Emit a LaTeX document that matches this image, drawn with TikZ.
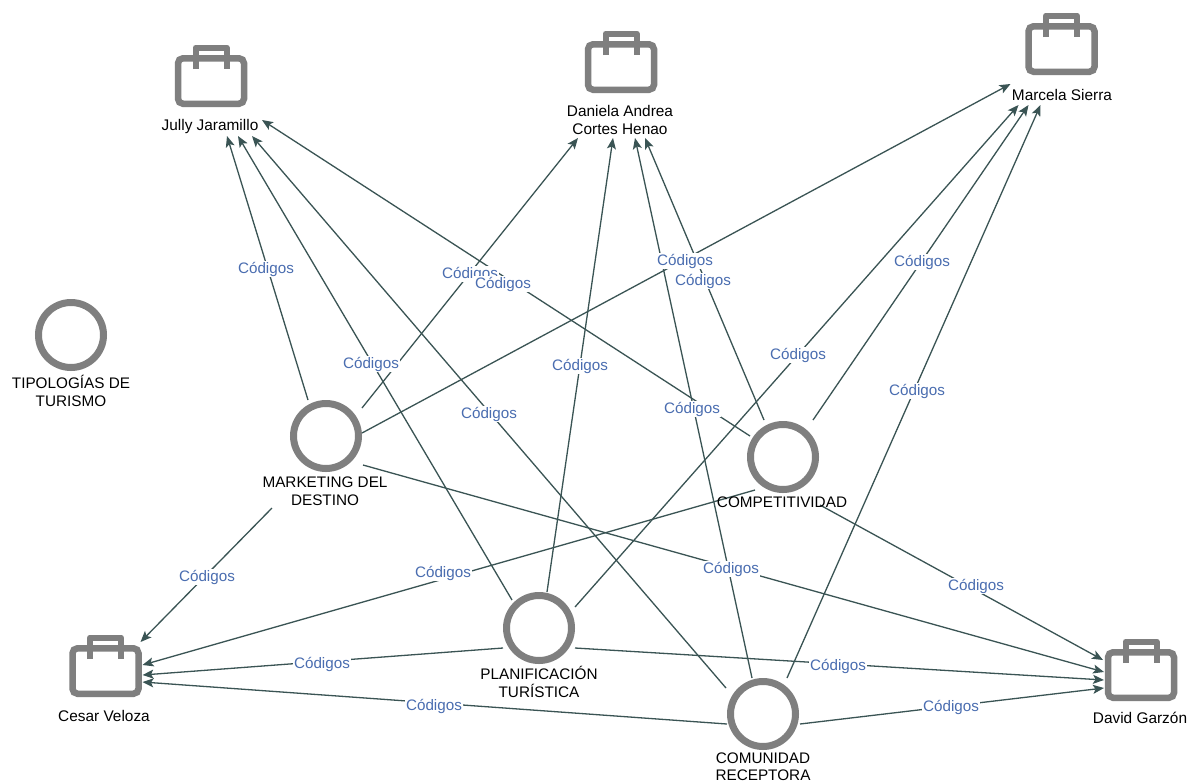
\documentclass[tikz,border=0pt]{standalone}
\usepackage{fontspec}
\setmainfont{Liberation Sans}
\usetikzlibrary{arrows.meta}
\pgfdeclarelayer{paper}
\pgfdeclarelayer{edges}
\pgfsetlayers{paper,edges,main}
\definecolor{icongray}{HTML}{7F7F7F}
\definecolor{edgecol}{HTML}{3A5454}
\definecolor{labcol}{HTML}{4A6DB0}
\tikzset{
  x=1pt,y=-1pt,
  circ/.style={circle,draw=icongray,line width=7pt,fill=white,minimum size=65pt,inner sep=0pt},
  case/.style={rectangle,draw=icongray,line width=6.5pt,rounded corners=5pt,fill=white,minimum width=66pt,minimum height=45.5pt,inner sep=0pt},
  handle/.style={draw=icongray,line width=6pt,line join=round},
  conn/.style={draw=edgecol,line width=1.3pt,-{Stealth[length=11pt,width=9pt,inset=2.5pt]}},
  lab/.style={fill=white,text=labcol,font=\fontsize{15.2}{17}\selectfont,inner sep=1pt},
  cap1/.style={text=black,font=\fontsize{15.3}{18}\selectfont,align=center,inner sep=0pt},
  cap2/.style={text=black,font=\fontsize{15.4}{18}\selectfont,align=center,inner sep=0pt}
}
\newcommand{\brief}[3]{%
  \node[case] (#1) at (#2,#3) {};
  \draw[handle] ([shift={(-15.5,-12)}]#1.center) -- ++(0,-21.5) -- ++(31,0) -- ++(0,21.5);
}
\newcommand{\conn}[8]{%
  \begin{pgfonlayer}{edges}
    \draw[conn] ([shift={(#2)}]#1.center) -- ([shift={(#4)}]#3.center);
  \end{pgfonlayer}
  \node[lab] (#5) at (#6,#7) {#8};
}
\begin{document}
\begin{tikzpicture}
\begin{pgfonlayer}{paper}
\fill[white] (0,0) rectangle (1188,782);
\end{pgfonlayer}
\useasboundingbox (0,0) rectangle (1188,782);

\node[circ] (t) at (71,335) {};
\node[circ] (m) at (326,436) {};
\node[circ] (c) at (783,457) {};
\node[circ] (p) at (539,628) {};
\node[circ] (k) at (763,714) {};
\brief{j}{211}{81}
\brief{d}{621}{67}
\brief{r}{1061.5}{49}
\brief{v}{105.5}{671}
\brief{g}{1141}{675}

\node[cap1] (tl) at (71,391) {TIPOLOGÍAS DE\\TURISMO};
\node[cap1] (ml) at (325,491) {MARKETING DEL\\DESTINO};
\node[cap1] (cl) at (782,502) {COMPETITIVIDAD};
\node[cap1] (pl) at (539,682) {PLANIFICACIÓN\\TURÍSTICA};
\node[cap1,font=\fontsize{15.3}{17}\selectfont] (kl) at (763,766.5) {COMUNIDAD\\RECEPTORA};
\node[cap2] (jl) at (210,127) {Jully Jaramillo};
\node[cap2] (dl) at (620,120) {Daniela Andrea\\Cortes Henao};
\node[cap2] (rl) at (1062,95) {Marcela Sierra};
\node[cap2] (vl) at (104,716) {Cesar Veloza};
\node[cap2] (gl) at (1140,718) {David Garzón};

\conn{m}{-18,-36}{j}{16,55}{a1}{266}{269}{Códigos}
\conn{m}{36,-28}{d}{-43,71}{a2}{470}{274}{Códigos}
\conn{c}{-33,-21}{j}{51,39}{a3}{503}{284}{Códigos}
\conn{m}{36,-3}{r}{-51,35}{a4}{685}{261}{Códigos}
\conn{c}{-19,-37}{d}{24,71}{a5}{703}{281}{Códigos}
\conn{c}{30,-37}{r}{-33,56}{a6}{922}{262}{Códigos}
\conn{p}{-27,-28}{j}{27,55}{a7}{371}{364}{Códigos}
\conn{p}{8,-36}{d}{-8,71}{a8}{580}{366}{Códigos}
\conn{p}{36,-21}{r}{-43,56}{a9}{798}{355}{Códigos}
\conn{k}{-37,-26}{j}{41,55}{a10}{489}{414}{Códigos}
\conn{k}{-11,-36}{d}{14,71}{a11}{692}{409}{Códigos}
\conn{k}{24,-36}{r}{-21,56}{a12}{917}{391}{Códigos}
\conn{m}{-54,72}{v}{35,-29}{a13}{207}{577}{Códigos}
\conn{c}{-28,33}{v}{37,-6}{a14}{443}{573}{Códigos}
\conn{m}{37,29}{g}{-37,-3}{a15}{731}{569}{Códigos}
\conn{c}{37,48}{g}{-38,-15}{a16}{976}{586}{Códigos}
\conn{p}{-36,20}{v}{37,4}{a17}{322}{664}{Códigos}
\conn{p}{36,20}{g}{-37,5}{a18}{838}{666}{Códigos}
\conn{k}{-36,10}{v}{37,11}{a19}{434}{706}{Códigos}
\conn{k}{37,10}{g}{-37,13}{a20}{951}{707}{Códigos}
\end{tikzpicture}
\end{document}
